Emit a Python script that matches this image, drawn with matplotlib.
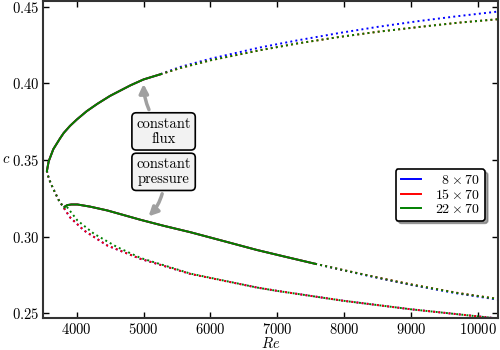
import numpy as np
import matplotlib
matplotlib.use("Agg")
import matplotlib.pyplot as plt

plt.rcParams['font.family'] = 'serif'
plt.rcParams['font.serif'] = ['cmr10']
plt.rcParams['mathtext.fontset'] = 'cm'
plt.rcParams['axes.formatter.use_mathtext'] = True
plt.rcParams['font.size'] = 10.5

# upper branch, stable part (solid), shared by all resolutions
re_up = [3555, 3580, 3650, 3750, 3806, 3900, 4000, 4150, 4309, 4500, 4806, 5000, 5254]
c_up = [0.3430, 0.3490, 0.3570, 0.3640, 0.3676, 0.3722, 0.3763, 0.3818, 0.3866, 0.3918, 0.3987, 0.4025, 0.4059]

# upper branch continuation (dotted)
re_up_dot = [5254, 5552, 6000, 6746, 7300, 7940, 8500, 9134, 9700, 10300]
c_up_dot_8 = [0.4060, 0.4107, 0.4160, 0.4234, 0.4280, 0.4329, 0.4368, 0.4407, 0.4438, 0.4468]
c_up_dot_15 = [0.4059, 0.4100, 0.4150, 0.4216, 0.4260, 0.4303, 0.4336, 0.4368, 0.4395, 0.4418]
c_up_dot_22 = [0.4059, 0.4100, 0.4150, 0.4216, 0.4260, 0.4303, 0.4336, 0.4368, 0.4395, 0.4418]

# nose, going down (dotted)
re_nose = [3555, 3560, 3600, 3650, 3728, 3810]
c_nose = [0.3430, 0.3410, 0.3360, 0.3310, 0.3240, 0.3185]

# lowest branch (dotted)
re_low_8 = [3810, 3900, 4110, 4458, 4955, 5700, 6697, 7000, 8000, 9000, 10300]
c_low_8 = [0.3185, 0.3125, 0.3039, 0.2941, 0.2854, 0.2756, 0.2667, 0.2645, 0.2580, 0.2525, 0.2465]
re_low_15 = [3810, 3900, 4110, 4458, 4955, 5700, 6697, 7000, 8000, 9000, 10300]
c_low_15 = [0.3185, 0.3125, 0.3039, 0.2941, 0.2854, 0.2756, 0.2667, 0.2645, 0.2580, 0.2525, 0.2465]
re_low_22 = [3810, 3836, 4010, 4258, 4600, 4955, 5700, 6697, 7000, 8000, 9000, 10300]
c_low_22 = [0.3185, 0.3203, 0.3105, 0.3018, 0.2932, 0.2860, 0.2758, 0.2667, 0.2645, 0.2580, 0.2525, 0.2465]

# middle branch, stable part (solid)
re_mid = [3821, 3860, 3920, 4010, 4200, 4458, 4955, 5300, 5701, 6200, 6697, 7100, 7567]
c_mid = [0.3195, 0.3205, 0.3209, 0.3209, 0.3195, 0.3170, 0.3109, 0.3070, 0.3028, 0.2970, 0.2912, 0.2870, 0.2822]

# middle branch continuation (dotted)
re_mid_dot = [7567, 8000, 8587, 9000, 9700, 10300]
c_mid_dot_8 = [0.2822, 0.2778, 0.2722, 0.2684, 0.2628, 0.2588]
c_mid_dot_15 = [0.2822, 0.2780, 0.2725, 0.2688, 0.2632, 0.2593]
c_mid_dot_22 = [0.2822, 0.2780, 0.2724, 0.2687, 0.2631, 0.2592]

labels = [r'$\hspace{0.57}8\times70$', r'$15\times70$', r'$22\times70$']
colors = ['b', 'r', 'g']

fig = plt.figure(figsize=(5, 3.5), dpi=100)
ax = fig.add_axes([0.0866, 0.0914, 0.9088, 0.9057])

series = [
    (c_up_dot_8, re_low_8, c_low_8, c_mid_dot_8),
    (c_up_dot_15, re_low_15, c_low_15, c_mid_dot_15),
    (c_up_dot_22, re_low_22, c_low_22, c_mid_dot_22),
]

lw = 1.4
for (cud, rl, cl, cmd), col, lab in zip(series, colors, labels):
    ax.plot(re_up, c_up, '-', color=col, lw=lw, label=lab)
    ax.plot(re_mid, c_mid, '-', color=col, lw=lw)
    ax.plot(re_up_dot, cud, ':', color=col, lw=lw)
    ax.plot(re_nose, c_nose, ':', color=col, lw=lw)
    ax.plot(rl, cl, ':', color=col, lw=lw)
    ax.plot(re_mid_dot, cmd, ':', color=col, lw=lw)

ax.set_xlim(3500, 10300)
ax.set_ylim(0.2468, 0.4537)
ax.set_xticks([4000, 5000, 6000, 7000, 8000, 9000, 10000])
ax.set_yticks([0.25, 0.30, 0.35, 0.40, 0.45])
ax.set_xlabel(r'$Re$', labelpad=-1)
ax.set_ylabel(r'$c$', rotation=0, labelpad=4, va='center')
ax.tick_params(direction='in', top=True, right=True, length=4, width=1, pad=3)
for s in ax.spines.values():
    s.set_linewidth(1.5)
    s.set_color('0.2')

box = dict(boxstyle='round,pad=0.3,rounding_size=0.3', fc='#f2f2f2', ec='k', lw=1.2)
arrow = dict(arrowstyle='-|>,head_length=0.5,head_width=0.25', color='#a0a0a0', lw=2.5,
             shrinkA=2, shrinkB=1)
ax.annotate('constant\nflux', xy=(5000, 0.4005), xytext=(5300, 0.3686),
            ha='center', va='center', bbox=box, linespacing=1.1,
            arrowprops=dict(arrow, connectionstyle='arc3,rad=-0.2'))
ax.annotate('constant\npressure', xy=(5060, 0.3125), xytext=(5300, 0.3422),
            ha='center', va='center', bbox=box, linespacing=1.1,
            arrowprops=dict(arrow, connectionstyle='arc3,rad=-0.25'))

leg = ax.legend(loc='center right', bbox_to_anchor=(0.972, 0.388), borderaxespad=0,
                fontsize=10, borderpad=0.35,
                handlelength=1.5, handletextpad=1.0, labelspacing=0.05,
                fancybox=True, shadow=True, framealpha=1, edgecolor='k')
leg.get_frame().set_linewidth(1.2)

fig.savefig('out.png', dpi=100)
